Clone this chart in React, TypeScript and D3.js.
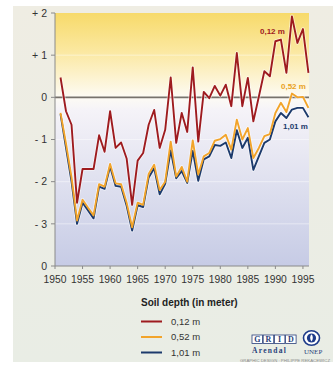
import React from "react";
import * as d3 from "d3";

const years: number[] = d3.range(1951, 1997);
const depth012: number[] = [0.47, -0.33, -0.65, -2.5, -1.7, -1.7, -1.7, -0.9, -1.29, -0.33, -1.2, -1.07, -1.45, -2.55, -1.5, -1.32, -0.65, -0.3, -1.2, -0.77, 0.47, -1.08, -0.37, -0.82, 0.71, -1.05, 0.13, -0.02, 0.27, 0.04, 0.3, -0.21, 1.05, -0.21, 0.46, -0.57, 0.02, 0.62, 0.5, 1.33, 1.37, 0.58, 1.92, 1.29, 1.62, 0.58];
const depth052: number[] = [-0.37, -1.1, -1.9, -2.92, -2.43, -2.62, -2.8, -2.06, -2.12, -1.58, -2.04, -2.06, -2.5, -3.08, -2.5, -2.55, -1.82, -1.6, -2.2, -2.0, -1.05, -1.88, -1.65, -2.0, -1.02, -1.83, -1.4, -1.32, -1.03, -0.99, -0.89, -1.24, -0.53, -1.0, -0.73, -1.44, -1.2, -0.92, -0.87, -0.37, -0.13, -0.35, 0.09, 0.0, 0.01, -0.25];
const depth101: number[] = [-0.4, -1.2, -2.0, -3.0, -2.5, -2.68, -2.87, -2.12, -2.17, -1.64, -2.1, -2.12, -2.57, -3.16, -2.56, -2.6, -1.9, -1.68, -2.3, -2.05, -1.26, -1.92, -1.75, -2.03, -1.27, -1.98, -1.47, -1.4, -1.13, -1.15, -1.07, -1.44, -0.78, -1.2, -0.96, -1.72, -1.4, -1.08, -1.0, -0.57, -0.37, -0.49, -0.29, -0.25, -0.25, -0.47];

const yTickValues: number[] = [-4, -3, -2, -1, 0, 1, 2];
const yTickLabels: string[] = ["0", "- 3", "- 2", "- 1", "0", "+ 1", "+ 2"];
const xTickValues: number[] = [1950, 1955, 1960, 1965, 1970, 1975, 1980, 1985, 1990, 1995];

const seriesNames: string[] = ["0,12 m", "0,52 m", "1,01 m"];
const seriesColors: string[] = ["#9e1b1f", "#f2a42a", "#1c3a6c"];
const legendTitle = "Soil depth (in meter)";

const W = 333;
const H = 365;
const left = 55;
const right = 309;
const top = 13;
const bottom = 266;

export default function App() {
  const x = d3.scaleLinear().domain([1950, 1996.1]).range([left, right]);
  const y = d3.scaleLinear().domain([-4, 2]).range([bottom, top]);
  const line = d3
    .line<number>()
    .x((_, i) => x(years[i]))
    .y((d) => y(d));
  const series = [depth012, depth052, depth101];
  const drawOrder = [2, 1, 0];
  const font = "'Liberation Sans', Arial, sans-serif";
  const serif = "'Liberation Serif', 'DejaVu Serif', serif";
  const zeroFrac = (y(0) - top) / (bottom - top);

  return (
    <svg
      width={W}
      height={H}
      style={{ position: "absolute", left: 0, top: 0, display: "block" }}
      fontFamily={font}
    >
      <defs>
        <linearGradient id="panelGrad" x1="0" y1="0" x2="0" y2="1">
          <stop offset="0%" stopColor="#efede3" />
          <stop offset="100%" stopColor="#e9ede5" />
        </linearGradient>
        <linearGradient id="plotGrad" x1="0" y1="0" x2="0" y2="1">
          <stop offset="0%" stopColor="#f7da6a" />
          <stop offset={`${zeroFrac * 0.45 * 100}%`} stopColor="#fbe8a0" />
          <stop offset={`${zeroFrac * 100}%`} stopColor="#fdfbf4" />
          <stop offset={`${(zeroFrac + 0.05) * 100}%`} stopColor="#f5f3f8" />
          <stop offset="100%" stopColor="#c6cbe5" />
        </linearGradient>
      </defs>
      <rect x={0} y={0} width={W} height={H} fill="#ffffff" />
      <rect x={13} y={6} width={W - 13} height={356} fill="url(#panelGrad)" />
      <rect x={left} y={top} width={right - left} height={bottom - top} fill="url(#plotGrad)" />
      {yTickValues.filter((v) => v !== 0 && v !== -4 && v !== 2).map((v) => (
        <line key={"g" + v} x1={left} x2={right} y1={y(v)} y2={y(v)} stroke="#ffffff" strokeOpacity={0.45} strokeWidth={1} />
      ))}
      <line x1={left} x2={right} y1={y(0)} y2={y(0)} stroke="#77726c" strokeWidth={1.6} />
      {/* axes */}
      <line x1={left} x2={left} y1={top} y2={bottom} stroke="#8a8a8a" strokeWidth={1} />
      <line x1={left} x2={right} y1={bottom} y2={bottom} stroke="#8a8a8a" strokeWidth={1} />
      {yTickValues.map((v, i) => (
        <g key={"yt" + v}>
          <line x1={left - 4} x2={left} y1={y(v)} y2={y(v)} stroke="#8a8a8a" />
          <text x={47} y={y(v)} dy="0.35em" textAnchor="end" fontSize={10.5} fill="#333">
            {yTickLabels[i]}
          </text>
        </g>
      ))}
      {xTickValues.map((v) => (
        <g key={"xt" + v}>
          <line x1={x(v)} x2={x(v)} y1={bottom} y2={bottom + 3} stroke="#8a8a8a" />
          <text x={x(v)} y={283} textAnchor="middle" fontSize={10.3} fill="#333">
            {v}
          </text>
        </g>
      ))}
      {/* series */}
      {drawOrder.map((si) => (
        <path key={"h" + si} d={line(series[si]) || ""} fill="none" stroke="#ffffff" strokeOpacity={0.55} strokeWidth={3.6} strokeLinejoin="round" />
      ))}
      {drawOrder.map((si) => (
        <path key={"s" + si} d={line(series[si]) || ""} fill="none" stroke={seriesColors[si]} strokeWidth={1.9} strokeLinejoin="round" />
      ))}
      {/* line labels */}
      <text x={260} y={34} fontSize={8} fontWeight="bold" fill={seriesColors[0]}>{seriesNames[0]}</text>
      <text x={281} y={88.5} fontSize={8} fontWeight="bold" fill="#e9a21e">{seriesNames[1]}</text>
      <text x={283} y={129} fontSize={8} fontWeight="bold" fill={seriesColors[2]}>{seriesNames[2]}</text>
      {/* legend */}
      <text x={141} y={305.5} fontSize={10} fontWeight="bold" fill="#222">{legendTitle}</text>
      {seriesNames.map((n, i) => (
        <g key={"lg" + i}>
          <line x1={141} x2={162} y1={321.5 + i * 15.5} y2={321.5 + i * 15.5} stroke={seriesColors[i]} strokeWidth={2} />
          <text x={171} y={321.5 + i * 15.5} dy="0.35em" fontSize={9.5} fill="#333">{n}</text>
        </g>
      ))}
      {/* GRID Arendal logo */}
      {["G", "R", "I", "D"].map((c, i) => (
        <g key={"grid" + c}>
          <rect x={252 + i * 11.2} y={335} width={10.5} height={8.5} fill="#ffffff" stroke="#2a3f7a" strokeWidth={0.8} />
          <text x={252 + i * 11.2 + 5.25} y={342} textAnchor="middle" fontSize={8} fontWeight="bold" fontFamily={serif} fill="#2a3f7a">{c}</text>
        </g>
      ))}
      <text x={252} y={353} fontSize={7.5} fontWeight="bold" fontFamily={serif} fill="#2a3f7a" letterSpacing={1.3}>Arendal</text>
      <ellipse cx={311.5} cy={338} rx={8} ry={7.2} fill="#ffffff" stroke="#1f3c8a" strokeWidth={1.6} />
      <circle cx={311.5} cy={338} r={4.6} fill="#1f3c8a" />
      <path d="M311.5 334.2 C313.3 335.8 313.3 339.5 311.5 341.5 C309.7 339.5 309.7 335.8 311.5 334.2 Z" fill="#ffffff" />
      <text x={304} y={353.5} fontSize={7} fontFamily={serif} fill="#2a3f7a">UNEP</text>
      <text x={240} y={361.5} fontSize={4.3} fill="#8a8a8a">GRAPHIC DESIGN : PHILIPPE REKACEWICZ</text>
    </svg>
  );
}
